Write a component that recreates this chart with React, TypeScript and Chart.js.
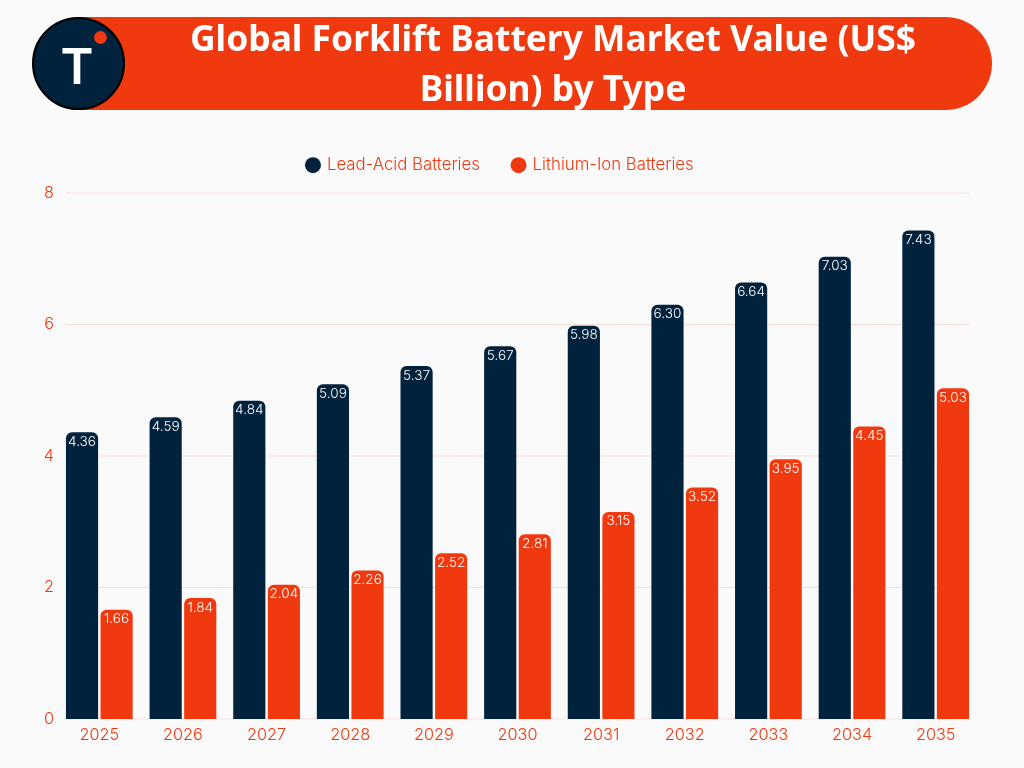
import React, { useEffect, useRef } from "react";
import { Chart, registerables } from "chart.js";

Chart.register(...registerables);

const NAVY = "#00223d";
const ORANGE = "#f0390f";
const FONT = "Inter";

const years = ["2025", "2026", "2027", "2028", "2029", "2030", "2031", "2032", "2033", "2034", "2035"];
const leadAcid = [4.36, 4.59, 4.84, 5.09, 5.37, 5.67, 5.98, 6.3, 6.64, 7.03, 7.43];
const lithiumIon = [1.66, 1.84, 2.04, 2.26, 2.52, 2.81, 3.15, 3.52, 3.95, 4.45, 5.03];
const yTicks = [0, 2, 4, 6, 8];

// extra room between the legend and the plot
const legendGap = {
  id: "legendGap",
  beforeInit(chart: any) {
    const fit = chart.legend.fit;
    chart.legend.fit = function () {
      fit.call(this);
      this.height += 9.45;
    };
  },
};

// gridlines only run from the first bar to the last bar, not the full scale width
const gridPlugin = {
  id: "shortGrid",
  beforeDatasetsDraw(chart: any) {
    const { ctx, scales } = chart;
    ctx.save();
    ctx.strokeStyle = "rgba(240,57,15,0.14)";
    ctx.lineWidth = 1;
    yTicks.forEach((t) => {
      const y = scales.y.getPixelForValue(t);
      ctx.beginPath();
      ctx.moveTo(66, y);
      ctx.lineTo(969, y);
      ctx.stroke();
    });
    ctx.restore();
  },
};

// value labels sit inside the top of each bar
const valueLabels = {
  id: "valueLabels",
  afterDatasetsDraw(chart: any) {
    const { ctx } = chart;
    ctx.save();
    ctx.fillStyle = "#ffffff";
    ctx.font = `300 13.6px ${FONT}`;
    ctx.textAlign = "center";
    ctx.textBaseline = "middle";
    chart.data.datasets.forEach((ds: any, i: number) => {
      chart.getDatasetMeta(i).data.forEach((bar: any, j: number) => {
        ctx.fillText(ds.data[j].toFixed(2), bar.x, bar.y + 9.5);
      });
    });
    ctx.restore();
  },
};

const App: React.FC = () => {
  const canvasRef = useRef<HTMLCanvasElement | null>(null);

  useEffect(() => {
    if (!canvasRef.current) return;
    const chart = new Chart(canvasRef.current, {
      type: "bar",
      data: {
        labels: years,
        datasets: [
          { label: "Lead-Acid Batteries", data: leadAcid, backgroundColor: NAVY, borderRadius: { topLeft: 6, topRight: 6 } },
          { label: "Lithium-Ion Batteries", data: lithiumIon, backgroundColor: ORANGE, borderRadius: { topLeft: 6, topRight: 6 } },
        ],
      },
      options: {
        responsive: false,
        animation: false,
        // left padding + narrower y axis keeps the plot in place but centres the legend on the page
        layout: { padding: { top: 123.75, right: 46.5, left: 23.5, bottom: 0 } },
        datasets: { bar: { categoryPercentage: 0.827, barPercentage: 0.93 } },
        plugins: {
          tooltip: { enabled: false },
          legend: {
            position: "top",
            labels: {
              color: ORANGE,
              font: { family: FONT, size: 16.8, weight: "300" },
              usePointStyle: true,
              pointStyle: "circle",
              boxWidth: 11.3,
              boxHeight: 11.3,
              padding: 33,
            },
          },
        },
        scales: {
          x: {
            grid: { display: false, drawTicks: false },
            border: { display: false },
            ticks: { color: ORANGE, font: { family: FONT, size: 16.3, weight: "300" }, padding: 6 },
            afterFit: (s: any) => { s.height = 49; },
          },
          y: {
            min: 0,
            max: 8,
            grid: { display: false, drawTicks: false },
            border: { display: false },
            ticks: { color: ORANGE, font: { family: FONT, size: 16.3, weight: "300" }, stepSize: 2, padding: 3.5 },
            afterFit: (s: any) => { s.width = 34; },
          },
        },
      },
      plugins: [legendGap, gridPlugin, valueLabels],
    } as any);
    return () => chart.destroy();
  }, []);

  return (
    <div style={{ position: "fixed", left: 0, top: 0, width: 1024, height: 768, background: "#fafafa", overflow: "hidden" }}>
      <canvas ref={canvasRef} width={1024} height={768} style={{ position: "absolute", left: 0, top: 0, display: "block" }} />
      <div style={{ position: "absolute", left: 33, top: 17, width: 959, height: 93, background: ORANGE, borderRadius: 46.5 }} />
      <div
        style={{
          position: "absolute",
          left: 172,
          top: 12,
          width: 762,
          textAlign: "center",
          color: "#fff",
          fontFamily: "'Noto Sans', sans-serif",
          fontWeight: 700,
          fontSize: 35.4,
          lineHeight: "50px",
        }}
      >
        Global Forklift Battery Market Value (US$ Billion) by Type
      </div>
      <div
        style={{
          position: "absolute",
          left: 32,
          top: 17,
          width: 93,
          height: 93,
          boxSizing: "border-box",
          borderRadius: "50%",
          background: NAVY,
          border: "2px solid #000",
          color: "#fff",
          fontFamily: "Inter, sans-serif",
          fontWeight: 600,
          fontSize: 50,
          lineHeight: "94px",
          textAlign: "center",
          paddingRight: 3,
        }}
      >
        T
      </div>
      <div style={{ position: "absolute", left: 93.5, top: 30.5, width: 13, height: 13, borderRadius: "50%", background: ORANGE }} />
    </div>
  );
};

export default App;
